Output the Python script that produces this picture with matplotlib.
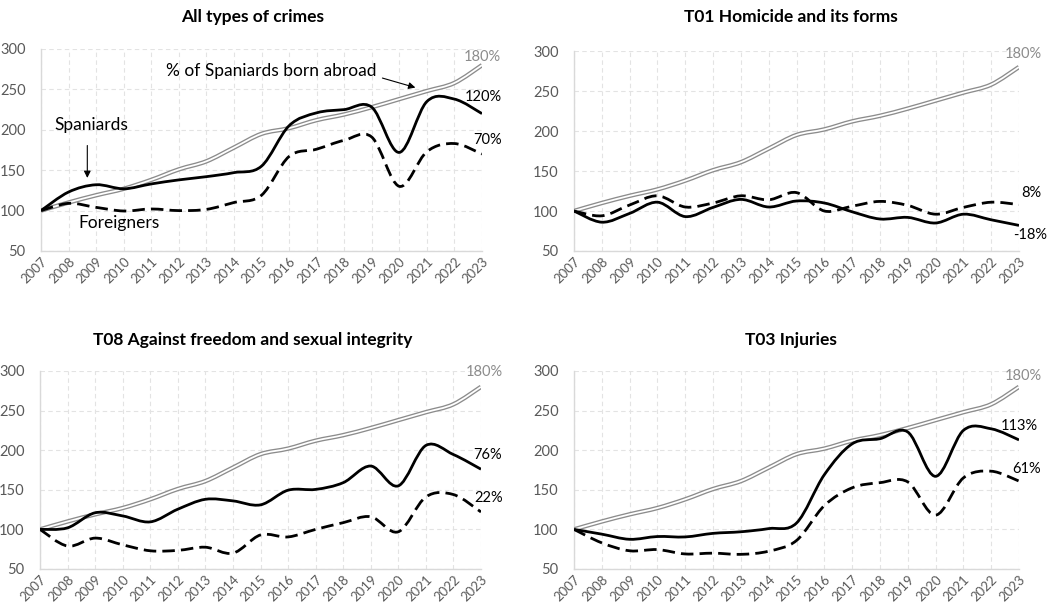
import numpy as np
import matplotlib
matplotlib.use("Agg")
import matplotlib.pyplot as plt
from matplotlib.path import Path
from matplotlib.patches import PathPatch

plt.rcParams['font.family'] = ['Lato', 'DejaVu Sans']

years = list(range(2007, 2024))
year_labels = [str(y) for y in years]

born_abroad = [100, 110, 119, 127, 138, 151, 161, 178, 195, 202, 212, 219, 228, 238, 248, 258, 280]

all_spaniards = [100, 123, 132, 127, 133, 138, 142, 147, 155, 205, 221, 225, 228, 172, 235, 238, 220]
all_foreigners = [100, 109, 104, 99.5, 102, 100, 101.5, 110, 119, 167, 176, 187, 191, 130, 173, 183, 170]

hom_spaniards = [100, 86, 97, 111, 93, 104.5, 114.5, 105, 112.5, 110, 99, 90, 92, 85, 96, 89, 82]
hom_foreigners = [100, 94, 107.5, 119, 105, 110, 119, 114, 123, 100, 106, 112, 107, 96, 104.5, 111, 108]

sex_spaniards = [100, 102, 121, 117, 109.5, 125.5, 138, 136, 131, 149.5, 150.5, 159, 180, 155, 206, 194.5, 176]
sex_foreigners = [100, 79, 89, 80.5, 73, 73.5, 77.5, 70, 93, 90.5, 100, 108.5, 116, 97, 141, 144, 122]

inj_spaniards = [100, 94, 87.5, 91, 90.5, 95, 97, 101, 108, 169, 208, 214.5, 223, 167, 225, 227, 213]
inj_foreigners = [100, 83, 73, 74.5, 69, 70, 68.5, 72.5, 86, 130, 152.5, 159, 160, 118, 165, 173.5, 161]

titles = ["All types of crimes", "T01 Homicide and its forms",
          "T08 Against freedom and sexual integrity", "T03 Injuries"]
spaniards = [all_spaniards, hom_spaniards, sex_spaniards, inj_spaniards]
foreigners = [all_foreigners, hom_foreigners, sex_foreigners, inj_foreigners]
end_labels_sp = ["120%", "-18%", "76%", "113%"]
end_labels_fo = ["70%", "8%", "22%", "61%"]
born_label = "180%"

# label positions (data coords) for end labels
sp_label_pos = [(2023.05, 240), (2023.4, 70), (2023.25, 194), (2023.0, 230)]
fo_label_pos = [(2023.2, 187), (2023.45, 123), (2023.28, 140), (2023.27, 176)]
born_label_pos = [(2023.0, 290), (2023.15, 296), (2023.13, 299), (2023.17, 294)]


def smooth_path(x, y):
    x = np.asarray(x, float)
    y = np.asarray(y, float)
    n = len(x)
    verts = [(x[0], y[0])]
    codes = [Path.MOVETO]
    for i in range(n - 1):
        p0 = np.array([x[max(i - 1, 0)], y[max(i - 1, 0)]])
        p1 = np.array([x[i], y[i]])
        p2 = np.array([x[i + 1], y[i + 1]])
        p3 = np.array([x[min(i + 2, n - 1)], y[min(i + 2, n - 1)]])
        c1 = p1 + (p2 - p0) / 6.0
        c2 = p2 - (p3 - p1) / 6.0
        verts += [tuple(c1), tuple(c2), tuple(p2)]
        codes += [Path.CURVE4] * 3
    return Path(verts, codes)


def draw(ax, x, y, **kw):
    patch = PathPatch(smooth_path(x, y), fill=False, capstyle='butt',
                      joinstyle='round', **kw)
    ax.add_patch(patch)


fig = plt.figure(figsize=(10.5, 6.07), dpi=100)
W, H = 1050, 607
boxes = [(41, 49, 482, 251), (574, 51, 1019, 251),
         (40, 371, 481, 569), (574, 371, 1019, 569)]
title_pos = [(253, 17), (791, 17), (253, 340), (791, 340)]

grid_col = '#D9D9D9'
tick_col = '#595959'

for k, (l, t, r, b) in enumerate(boxes):
    ax = fig.add_axes([l / W, 1 - b / H, (r - l) / W, (b - t) / H])
    ax.set_xlim(2007, 2023)
    ax.set_ylim(50, 300)
    ax.set_yticks([50, 100, 150, 200, 250, 300])
    ax.set_xticks(years)
    ax.set_xticklabels(year_labels, rotation=45, ha='right',
                       rotation_mode='anchor')
    ax.tick_params(axis='both', length=0, colors=tick_col)
    ax.tick_params(axis='y', pad=11, labelsize=10.5)
    ax.tick_params(axis='x', pad=3, labelsize=9.5)
    ax.grid(True, color='#E3E3E3', linestyle=(0, (4, 3)), linewidth=0.8)
    ax.set_axisbelow(True)
    for s in ['top', 'right']:
        ax.spines[s].set_visible(False)
    for s in ['left', 'bottom']:
        ax.spines[s].set_color(grid_col)
        ax.spines[s].set_linewidth(1.0)

    # double line: born abroad
    draw(ax, years, born_abroad, edgecolor='#8C8C8C', linewidth=3.2, zorder=3)
    draw(ax, years, born_abroad, edgecolor='white', linewidth=1.3, zorder=3.1)
    draw(ax, years, foreigners[k], edgecolor='black', linewidth=2.0,
         linestyle=(0, (4.5, 2.2)), zorder=4)
    draw(ax, years, spaniards[k], edgecolor='black', linewidth=2.0, zorder=5)

    tx, ty = title_pos[k]
    fig.text(tx / W, 1 - ty / H, titles[k], fontsize=12.5, fontweight='bold',
             ha='center', va='center')

    bx, by = born_label_pos[k]
    ax.text(bx, by, born_label, color='#8C8C8C', fontsize=10.5, ha='center',
            va='center', clip_on=False)
    sx, sy = sp_label_pos[k]
    ax.text(sx, sy, end_labels_sp[k], color='black', fontsize=10.5,
            ha='center', va='center', clip_on=False)
    fx, fy = fo_label_pos[k]
    ax.text(fx, fy, end_labels_fo[k], color='black', fontsize=10.5,
            ha='center', va='center', clip_on=False)

    if k == 0:
        ax.text(2015.36, 273, "% of Spaniards born abroad", fontsize=12.5,
                ha='center', va='center')
        ax.annotate("", xy=(2020.68, 251.3), xytext=(2019.29, 265),
                    arrowprops=dict(arrowstyle='-|>', color='black', lw=0.8,
                                    mutation_scale=10))
        ax.text(2008.84, 206, "Spaniards", fontsize=12.5, ha='center',
                va='center')
        ax.annotate("", xy=(2008.68, 137), xytext=(2008.68, 184),
                    arrowprops=dict(arrowstyle='-|>', color='black', lw=0.8,
                                    mutation_scale=10))
        ax.text(2009.83, 85, "Foreigners", fontsize=12.5, ha='center',
                va='center')

fig.savefig("out.png", dpi=100)
